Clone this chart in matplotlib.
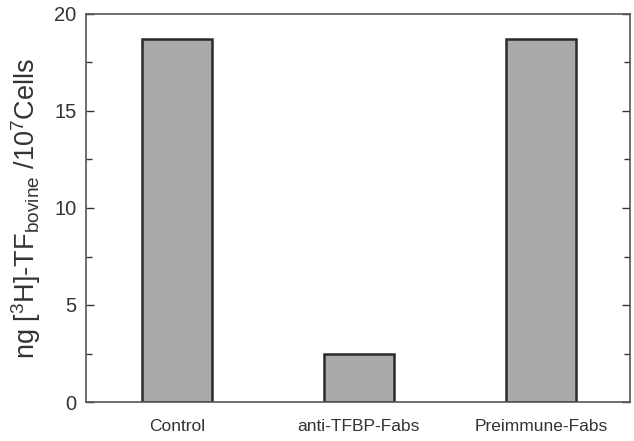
import matplotlib
matplotlib.use("Agg")
import matplotlib.pyplot as plt
from matplotlib.ticker import MultipleLocator

categories = ["Control", "anti-TFBP-Fabs", "Preimmune-Fabs"]
values = [18.7, 2.5, 18.7]

plt.rcParams['font.family'] = ['Liberation Sans', 'DejaVu Sans']
plt.rcParams['mathtext.fontset'] = 'custom'
plt.rcParams['mathtext.rm'] = 'Liberation Sans'
plt.rcParams['mathtext.it'] = 'Liberation Sans'

fig = plt.figure(figsize=(6.34, 4.41), dpi=100)
ax = fig.add_axes([86/634, 1 - 402/441, 544/634, 388/441])

x = range(len(categories))
ax.bar(x, values, width=0.385, color='#a9a9a9', edgecolor='#2a2a2a', linewidth=1.8)

ax.set_xlim(-0.5, 2.49)
ax.set_ylim(0, 20)
ax.set_xticks(list(x))
ax.set_xticklabels(categories, fontsize=12.5, color='#333333')
ax.tick_params(axis='x', length=0, pad=12)
ax.yaxis.set_major_locator(MultipleLocator(5))
ax.yaxis.set_minor_locator(MultipleLocator(2.5))
ax.tick_params(axis='y', which='both', direction='in', right=True, labelsize=14.5,
               colors='#333333', width=1, pad=7)
ax.tick_params(axis='y', which='major', length=6)
ax.tick_params(axis='y', which='minor', length=4)
for s in ax.spines.values():
    s.set_color('#555555')
    s.set_linewidth(1.2)

ax.set_ylabel(r"ng [$^{\mathrm{3}}$H]-TF$_{\mathrm{bovine}}$ /10$^{\mathrm{7}}$Cells",
              fontsize=19.5, color='#333333', labelpad=8)

fig.savefig("out.png", dpi=100)
